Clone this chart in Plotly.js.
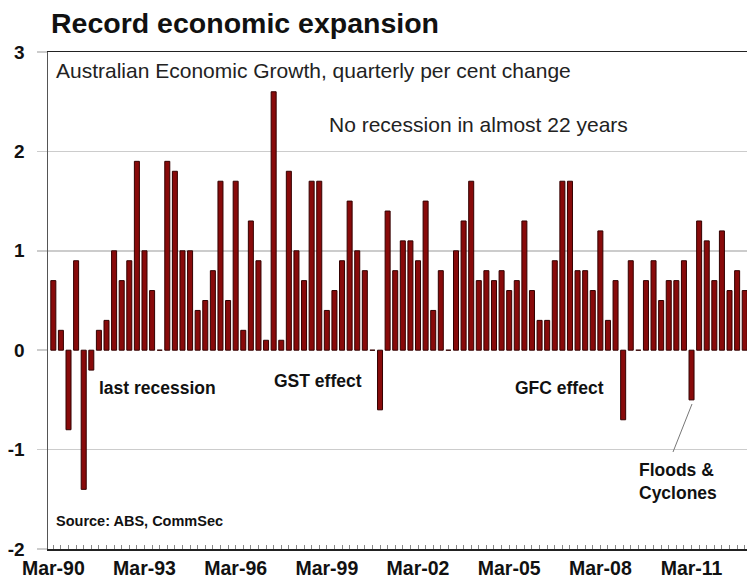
<!DOCTYPE html>
<html>
<head>
<meta charset="utf-8">
<script src="https://cdn.plot.ly/plotly-3.0.1.min.js"></script>
<style>
  html, body { margin: 0; padding: 0; background: #fff; }
  #chart { width: 747px; height: 578px; }
</style>
</head>
<body>
<div id="chart"></div>
<script>
// ---- Data ----
const quarterMonths = ['Mar', 'Jun', 'Sep', 'Dec'];
const startYear = 1990;
// Quarterly per cent change in GDP, Mar-90 .. Dec-12
const growth = [
  0.7, 0.2, -0.8, 0.9, -1.4, -0.2, 0.2, 0.3, 1.0, 0.7, 0.9, 1.9,
  1.0, 0.6, 0.0, 1.9, 1.8, 1.0, 1.0, 0.4, 0.5, 0.8, 1.7, 0.5,
  1.7, 0.2, 1.3, 0.9, 0.1, 2.6, 0.1, 1.8, 1.0, 0.7, 1.7, 1.7,
  0.4, 0.6, 0.9, 1.5, 1.0, 0.8, 0.0, -0.6, 1.4, 0.8, 1.1, 1.1,
  0.9, 1.5, 0.4, 0.8, 0.0, 1.0, 1.3, 1.7, 0.7, 0.8, 0.7, 0.8,
  0.6, 0.7, 1.3, 0.6, 0.3, 0.3, 0.9, 1.7, 1.7, 0.8, 0.8, 0.6,
  1.2, 0.3, 0.7, -0.7, 0.9, 0.0, 0.7, 0.9, 0.5, 0.7, 0.7, 0.9,
  -0.5, 1.3, 1.1, 0.7, 1.2, 0.6, 0.8, 0.6
];
const tickLabels = ['Mar-90', 'Mar-93', 'Mar-96', 'Mar-99', 'Mar-02', 'Mar-05', 'Mar-08', 'Mar-11'];
const yTicks = [-2, -1, 0, 1, 2, 3];

const categories = growth.map((_, i) =>
  quarterMonths[i % 4] + '-' + String((startYear + Math.floor(i / 4)) % 100).padStart(2, '0'));

// ---- Layout helpers (pixel -> paper) ----
const W = 747, H = 578;
const M = { l: 48, r: 0, t: 52, b: 29 };
const pw = W - M.l - M.r, ph = H - M.t - M.b;
const px = x => (x - M.l) / pw;
const py = y => 1 - (y - M.t) / ph;

const FONT = 'Arial, "Liberation Sans", Helvetica, sans-serif';

const trace = {
  type: 'bar',
  x: categories,
  y: growth,
  marker: { color: '#880a0a', line: { color: '#330000', width: 1 } },
  hoverinfo: 'x+y'
};

function note(text, x, y, size, bold, color) {
  return {
    xref: 'paper', yref: 'paper', x: px(x), y: py(y),
    xanchor: 'left', yanchor: 'middle', align: 'left',
    showarrow: false, text: text,
    font: { family: FONT, size: size, color: color || '#111', weight: bold ? 'bold' : 'normal' }
  };
}

const layout = {
  width: W, height: H,
  margin: M,
  paper_bgcolor: '#fff', plot_bgcolor: '#fff',
  showlegend: false,
  bargap: 0.34,
  title: {
    text: 'Record economic expansion',
    xref: 'container', yref: 'container',
    x: 51 / W, xanchor: 'left', y: 1 - 23 / H, yanchor: 'middle',
    font: { family: FONT, size: 28.5, color: '#111', weight: 'bold' }
  },
  xaxis: {
    type: 'category',
    range: [-0.7, 91.3],
    tickvals: categories,
    ticktext: categories.map(c => tickLabels.includes(c) ? c : ''),
    ticks: 'inside', ticklen: 4, tickcolor: '#888', tickwidth: 1,
    ticklabelstandoff: 1,
    showline: true, linecolor: '#222', linewidth: 1.5, mirror: true,
    showgrid: false, zeroline: false,
    tickangle: 0,
    tickfont: { family: FONT, size: 19.5, color: '#111', weight: 'bold' },
    fixedrange: true
  },
  yaxis: {
    range: [-2, 3],
    tickvals: yTicks,
    ticktext: yTicks.map(String),
    ticks: 'outside', ticklen: 10, tickcolor: '#cccccc', tickwidth: 1.5,
    ticklabelstandoff: 8,
    showgrid: true, gridcolor: '#cccccc', gridwidth: 1.5,
    zeroline: true, zerolinecolor: 'rgba(0,0,0,0)', zerolinewidth: 1,
    showline: true, linecolor: '#555', linewidth: 1.5,
    tickfont: { family: FONT, size: 19, color: '#111', weight: 'bold' },
    fixedrange: true
  },
  annotations: [
    note('Australian Economic Growth, quarterly per cent change', 54, 70, 21, false, '#222'),
    note('No recession in almost 22 years', 327, 125, 21, false, '#222'),
    note('last recession', 97, 388, 17.5, true),
    note('GST effect', 272, 381, 17.5, true),
    note('GFC effect', 513, 388, 17.5, true),
    note('Floods &amp;<br>Cyclones', 637, 481, 17.5, true),
    note('Source: ABS, CommSec', 54, 521, 14.5, true)
  ],
  shapes: [
    { type: 'line', xref: 'paper', yref: 'paper',
      x0: px(692), y0: py(404), x1: px(673), y1: py(452),
      line: { color: '#777', width: 1 } }
  ]
};

Plotly.newPlot('chart', [trace], layout, { displayModeBar: false, staticPlot: true });
</script>
</body>
</html>
